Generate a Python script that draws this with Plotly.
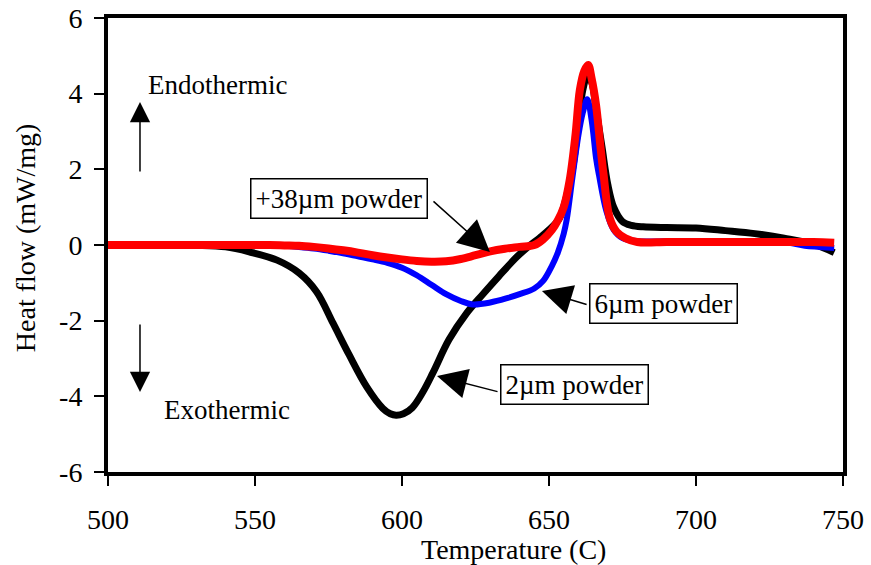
import plotly.graph_objects as go

# ---- data ----
temp_2um = [500, 510, 520, 530, 540, 548, 557.5, 565, 571, 576.5, 582, 588, 593.5, 596, 598,
            600.5, 603.5, 607, 610.5, 616, 622, 627.5, 633, 639, 643, 647, 650, 653.5, 656, 658,
            660, 661.5, 663, 664.5, 666, 668, 670, 672, 675, 678, 682, 690, 700, 710, 720, 730,
            740, 747]
flow_2um = [0, 0, 0, -0.01, -0.05, -0.18, -0.4, -0.74, -1.24, -2.06, -2.9, -3.75, -4.32, -4.46,
            -4.5, -4.46, -4.3, -3.9, -3.38, -2.5, -1.8, -1.3, -0.82, -0.32, -0.04, 0.2, 0.4,
            0.7, 1.3, 2.0, 3.2, 4.1, 4.45, 4.3, 3.6, 2.6, 1.6, 1.0, 0.62, 0.52, 0.48, 0.46, 0.45,
            0.38, 0.3, 0.18, 0.02, -0.2]

temp_6um = [500, 520, 540, 555, 560, 565, 570, 575, 580, 585, 590, 595, 600, 605, 610, 615, 620,
            624, 630, 636, 640, 645, 648, 651, 653, 655, 656, 658, 660, 661.5, 663, 664.5, 666,
            667, 669.5, 672, 675, 680, 690, 700, 710, 720, 730, 737, 742, 747]
flow_6um = [0, 0, 0, 0, -0.02, -0.05, -0.09, -0.15, -0.22, -0.3, -0.38, -0.47, -0.6, -0.8,
            -1.05, -1.3, -1.48, -1.57, -1.52, -1.4, -1.3, -1.15, -0.95, -0.55, -0.2, 0.3, 0.66,
            1.8, 2.9, 3.5, 3.85, 3.3, 2.3, 1.85, 0.9, 0.4, 0.18, 0.1, 0.1, 0.1, 0.1, 0.1, 0.08,
            -0.02, -0.05, -0.08]

temp_38um = [500, 520, 540, 555, 560, 565, 570, 575, 580, 585, 590, 595, 600, 605, 610, 615, 620,
             625, 630, 635, 640, 645, 648, 651, 653, 655, 657, 659, 660.5, 662, 663.3, 664.5,
             666, 667.5, 668.5, 670.7, 673, 676, 680, 690, 700, 710, 720, 730, 740, 747]
flow_38um = [0, 0, 0, 0, -0.01, -0.02, -0.05, -0.09, -0.14, -0.2, -0.27, -0.33, -0.38, -0.42,
             -0.44, -0.43, -0.37, -0.27, -0.17, -0.1, -0.05, 0.0, 0.15, 0.4, 0.65, 1.0, 1.7,
             2.9, 4.1, 4.6, 4.76, 4.4, 3.7, 2.6, 1.9, 0.7, 0.35, 0.18, 0.08, 0.08, 0.08, 0.08,
             0.08, 0.08, 0.08, 0.06]

x_tick_vals = [500, 550, 600, 650, 700, 750]
x_tick_text = ["500", "550", "600", "650", "700", "750"]
y_tick_vals = [-6, -4, -2, 0, 2, 4, 6]
y_tick_text = ["-6", "-4", "-2", "0", "2", "4", "6"]

x_title = "Temperature (C)"
y_title = "Heat flow (mW/mg)"

FONT = "Liberation Serif"

fig = go.Figure()
fig.add_trace(go.Scatter(x=temp_2um, y=flow_2um, mode="lines", name="2µm powder",
                         line=dict(color="black", width=7, shape="spline", smoothing=1.0)))
fig.add_trace(go.Scatter(x=temp_6um, y=flow_6um, mode="lines", name="6µm powder",
                         line=dict(color="#0000ff", width=6, shape="spline", smoothing=1.0)))
fig.add_trace(go.Scatter(x=temp_38um, y=flow_38um, mode="lines", name="+38µm powder",
                         line=dict(color="#ff0000", width=8, shape="spline", smoothing=1.0)))

axis_common = dict(
    showline=True, linewidth=4, linecolor="black", mirror=True,
    ticks="outside", ticklen=10, tickwidth=1.5, tickcolor="black",
    showgrid=False, zeroline=False, automargin=False,
    tickfont=dict(family=FONT, size=28, color="black"),
)

fig.update_xaxes(range=[500, 750], tickvals=x_tick_vals, ticktext=x_tick_text,
                 ticklabelstandoff=9, **axis_common)
fig.update_yaxes(range=[-6, 6], tickvals=y_tick_vals, ticktext=y_tick_text,
                 ticklabelstandoff=6, **axis_common)

title_font = dict(family=FONT, size=28, color="black")
ann_font = dict(family=FONT, size=27, color="black")
box = dict(bordercolor="black", borderwidth=1.5, borderpad=4, bgcolor="white")
annotations = [
    dict(x=0.552, y=-0.1718, xref="paper", yref="paper", text=x_title, showarrow=False,
         xanchor="center", yanchor="middle", font=title_font),
    dict(x=-0.112, y=0.5165, xref="paper", yref="paper", text=y_title, showarrow=False,
         xanchor="center", yanchor="middle", textangle=-90, font=title_font),
    dict(x=512.9, y=4.23, text="Endothermic", showarrow=False, xanchor="left", yanchor="middle",
         font=ann_font),
    dict(x=518.4, y=-4.36, text="Exothermic", showarrow=False, xanchor="left", yanchor="middle",
         font=ann_font),
    dict(x=578.4, y=1.216, text="+38µm powder", showarrow=False, xanchor="center",
         yanchor="middle", font=ann_font, **box),
    dict(x=688.9, y=-1.546, text="6µm powder", showarrow=False, xanchor="center",
         yanchor="middle", font=ann_font, **box),
    dict(x=658.7, y=-3.674, text="2µm powder", showarrow=False, xanchor="center",
         yanchor="middle", font=ann_font, **box),
]
# arrows: (tip_x, tip_y, tail_x, tail_y, size)
arrows = [
    (510.88, 3.78, 510.88, 1.903, 2.7),
    (510.88, -3.886, 510.88, -2.06, 2.7),
    (629.9, -0.185, 610.2, 1.19, 4.2),
    (647.6, -1.216, 663.3, -1.586, 4.0),
    (611.9, -3.463, 633.0, -3.886, 4.0),
]
for tx, ty, sx, sy, sz in arrows:
    annotations.append(dict(x=tx, y=ty, ax=sx, ay=sy, xref="x", yref="y", axref="x", ayref="y",
                            text="", showarrow=True, arrowhead=2, arrowsize=sz, arrowwidth=1.5,
                            arrowcolor="black"))

fig.update_layout(
    template="none",
    width=871, height=565,
    margin=dict(l=108, r=28, t=18, b=93, autoexpand=False),
    paper_bgcolor="white", plot_bgcolor="white",
    showlegend=False,
    annotations=annotations,
)

fig.write_html("out.html")
